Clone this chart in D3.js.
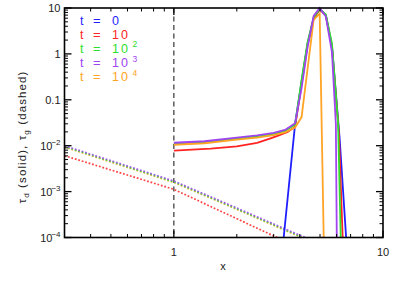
<!DOCTYPE html>
<html><head><meta charset="utf-8">
<script src="https://cdn.jsdelivr.net/npm/d3@7"></script>
<style>body{margin:0;background:#fff;} svg{display:block;font-family:"Liberation Sans",Arial,sans-serif;}</style>
</head><body>
<svg id="c" width="399" height="285"></svg>
<script>
// ---- data ----
const legendBase = ["0", "10", "10", "10", "10"];
const legendExp  = ["", "", "2", "3", "4"];
const colors = ["#1f1fff", "#ff2424", "#2ee02e", "#a044f0", "#ffa424"];

// solid (dust) curves
const solidX0 = [3.3, 3.8, 4.08, 4.36, 4.66, 4.98, 5.33, 5.7, 6.2, 6.73];
const solidY0 = [5e-5, 0.03, 0.25, 1.7, 6.0, 9.5, 7.0, 1.5, 0.015, 5e-5];
const solidX1 = [1, 1.5, 2, 2.5, 2.9, 3.2, 3.5, 3.8, 4.08, 4.36, 4.66, 4.98, 5.33, 5.7, 6.15, 6.45];
const solidY1 = [0.0078, 0.0086, 0.0097, 0.0115, 0.0145, 0.017, 0.02, 0.026, 0.22, 1.6, 5.8, 9.3, 6.8, 1.4, 0.02, 5e-5];
const solidX2 = [1, 1.4, 2, 2.5, 3, 3.4, 3.8, 4.08, 4.36, 4.66, 4.98, 5.33, 5.7, 6.1, 6.3];
const solidY2 = [0.011, 0.0119, 0.0143, 0.016, 0.018, 0.021, 0.029, 0.27, 1.8, 6.2, 9.5, 7.2, 1.7, 0.03, 5e-5];
const solidX3 = [1, 1.4, 2, 2.5, 3, 3.4, 3.8, 4.08, 4.36, 4.66, 4.98, 5.33, 5.7, 5.95, 6.02];
const solidY3 = [0.0116, 0.0125, 0.015, 0.0168, 0.019, 0.022, 0.031, 0.18, 1.4, 6.7, 10, 6.5, 1.1, 0.03, 5e-5];
const solidX4 = [1, 1.4, 2, 2.5, 3, 3.4, 3.8, 4.08, 4.66, 4.98, 5.22];
const solidY4 = [0.0105, 0.0113, 0.0135, 0.015, 0.017, 0.0195, 0.025, 0.042, 5.5, 7.5, 5e-5];

// dashed (gas) curves
const gasX  = [0.3, 0.4, 0.5, 0.7, 1, 1.5, 2, 3, 4, 4.3];
const gasX1 = [0.3, 0.4, 0.5, 0.7, 1, 1.5, 2, 3, 3.3];
const gasY1 = [0.00605, 0.00405, 0.00296, 0.00185, 0.00112, 4.73e-4, 2.57e-4, 1.08e-4, 8.9e-5];
const gasY2 = [0.0096, 0.0063, 0.00453, 0.00276, 0.00163, 7.4e-4, 4.2e-4, 1.89e-4, 1.07e-4, 9.4e-5];
const gasY4 = [0.0093, 0.0061, 0.00439, 0.00268, 0.00158, 7.2e-4, 4.1e-4, 1.83e-4, 1.04e-4, 9.1e-5];
const gasY3 = [0.0100, 0.00655, 0.00472, 0.00288, 0.0017, 7.7e-4, 4.4e-4, 1.97e-4, 1.12e-4, 9.8e-5];

const yMajor = [1e-4, 1e-3, 1e-2, 0.1, 1, 10];
const yMajorBase = ["10", "10", "10", "0.1", "1", "10"];
const yMajorExp  = ["\u22124", "\u22123", "\u22122", "", "", ""];
const xMajor = [1, 10];
const xMajorLabel = ["1", "10"];

// ---- chart ----
const svg = d3.select("#c");
const L = 64.5, R = 383, T = 8, B = 237.5;
const x = d3.scaleLog().domain([0.3, 10]).range([L, R]);
const y = d3.scaleLog().domain([1e-4, 10]).range([B, T]);

svg.append("clipPath").attr("id", "clip").append("rect")
  .attr("x", L).attr("y", T - 2).attr("width", R - L).attr("height", B - T + 2);

const line = d3.line().x(d => x(d[0])).y(d => y(d[1]));
const zip = (a, b) => a.map((v, i) => [v, b[i]]);
const plot = svg.append("g").attr("clip-path", "url(#clip)");

// vertical dashed line at x = 1
plot.append("line").attr("x1", x(1)).attr("x2", x(1)).attr("y1", T).attr("y2", B)
  .attr("stroke", "#333").attr("stroke-width", 1.2).attr("stroke-dasharray", "5,3.5");

// gas dotted
const gas = [[gasX1, gasY1, 1], [gasX, gasY4, 4], [gasX, gasY2, 2], [gasX, gasY3, 3]];
gas.forEach(([xs, ys, c]) => {
  plot.append("path").attr("d", line(zip(xs, ys))).attr("fill", "none")
    .attr("stroke", colors[c]).attr("stroke-width", 1.7).attr("stroke-dasharray", "1.8,1.8")
    .attr("opacity", 0.85);
});

// dust solid
const solids = [[solidX0, solidY0, 0], [solidX1, solidY1, 1], [solidX2, solidY2, 2], [solidX4, solidY4, 4], [solidX3, solidY3, 3]];
solids.forEach(([xs, ys, c]) => {
  plot.append("path").attr("d", line(zip(xs, ys))).attr("fill", "none")
    .attr("stroke", colors[c]).attr("stroke-width", 1.8).attr("stroke-linejoin", "miter");
});

// axes (ticks inward, all four sides)
const yMinor = [];
for (let e = -4; e < 1; e++) for (let k = 2; k <= 9; k++) yMinor.push(k * Math.pow(10, e));
const xMinor = [0.4,0.5,0.6,0.7,0.8,0.9,2,3,4,5,6,7,8,9];
const ax = svg.append("g").attr("stroke", "#000");
function tick(x1, y1, x2, y2, w) {
  ax.append("line").attr("x1", x1).attr("y1", y1).attr("x2", x2).attr("y2", y2).attr("stroke-width", w);
}
yMajor.forEach(v => { tick(L, y(v), L + 7, y(v), 1.3); tick(R, y(v), R - 7, y(v), 1.3); });
yMinor.forEach(v => { tick(L, y(v), L + 3.5, y(v), 1); tick(R, y(v), R - 3.5, y(v), 1); });
xMajor.forEach(v => { tick(x(v), B, x(v), B - 7, 1.3); tick(x(v), T, x(v), T + 7, 1.3); });
xMinor.forEach(v => { tick(x(v), B, x(v), B - 3.5, 1); tick(x(v), T, x(v), T + 3.5, 1); });
svg.append("rect").attr("x", L).attr("y", T).attr("width", R - L).attr("height", B - T)
  .attr("fill", "none").attr("stroke", "#000").attr("stroke-width", 1.6);

// tick labels
const lab = svg.append("g").attr("fill", "#222").attr("font-size", 11);
yMajor.forEach((v, i) => {
  lab.append("text").attr("x", L - 4 - (yMajorExp[i] ? 8 : 0)).attr("y", y(v) + 4).attr("text-anchor", "end").text(yMajorBase[i]);
  if (yMajorExp[i]) lab.append("text").attr("x", L - 4).attr("y", y(v) - 1).attr("text-anchor", "end").attr("font-size", 8).text(yMajorExp[i]);
});
xMajor.forEach((v, i) => {
  lab.append("text").attr("x", x(v)).attr("y", 256).attr("text-anchor", "middle").text(xMajorLabel[i]);
});
lab.append("text").attr("x", 223).attr("y", 270).attr("text-anchor", "middle").attr("font-size", 11).text("x");

// y title
const yt = lab.append("text").attr("transform", "translate(26,137) rotate(-90)")
  .attr("text-anchor", "middle").attr("font-size", 11.5).attr("letter-spacing", 1.1);
yt.append("tspan").text("\u03c4");
yt.append("tspan").attr("font-size", 8).attr("dy", 3).text("d");
yt.append("tspan").attr("dy", -3).text(" (solid), \u03c4");
yt.append("tspan").attr("font-size", 8).attr("dy", 3).text("g");
yt.append("tspan").attr("dy", -3).text(" (dashed)");

// legend
const lg = svg.append("g").attr("font-size", 12.5);
legendBase.forEach((b, i) => {
  const by = 24.5 + 14.2 * i;
  const g = lg.append("g").attr("fill", colors[i]);
  g.append("text").attr("x", 80).attr("y", by).text("t");
  g.append("text").attr("x", 93).attr("y", by).attr("font-size", 13).text("=");
  g.append("text").attr("x", 112).attr("y", by).attr("letter-spacing", 2).text(b);
  if (legendExp[i]) g.append("text").attr("x", 132.5).attr("y", by - 5.5).attr("font-size", 8.5).text(legendExp[i]);
});
</script>
</body></html>
